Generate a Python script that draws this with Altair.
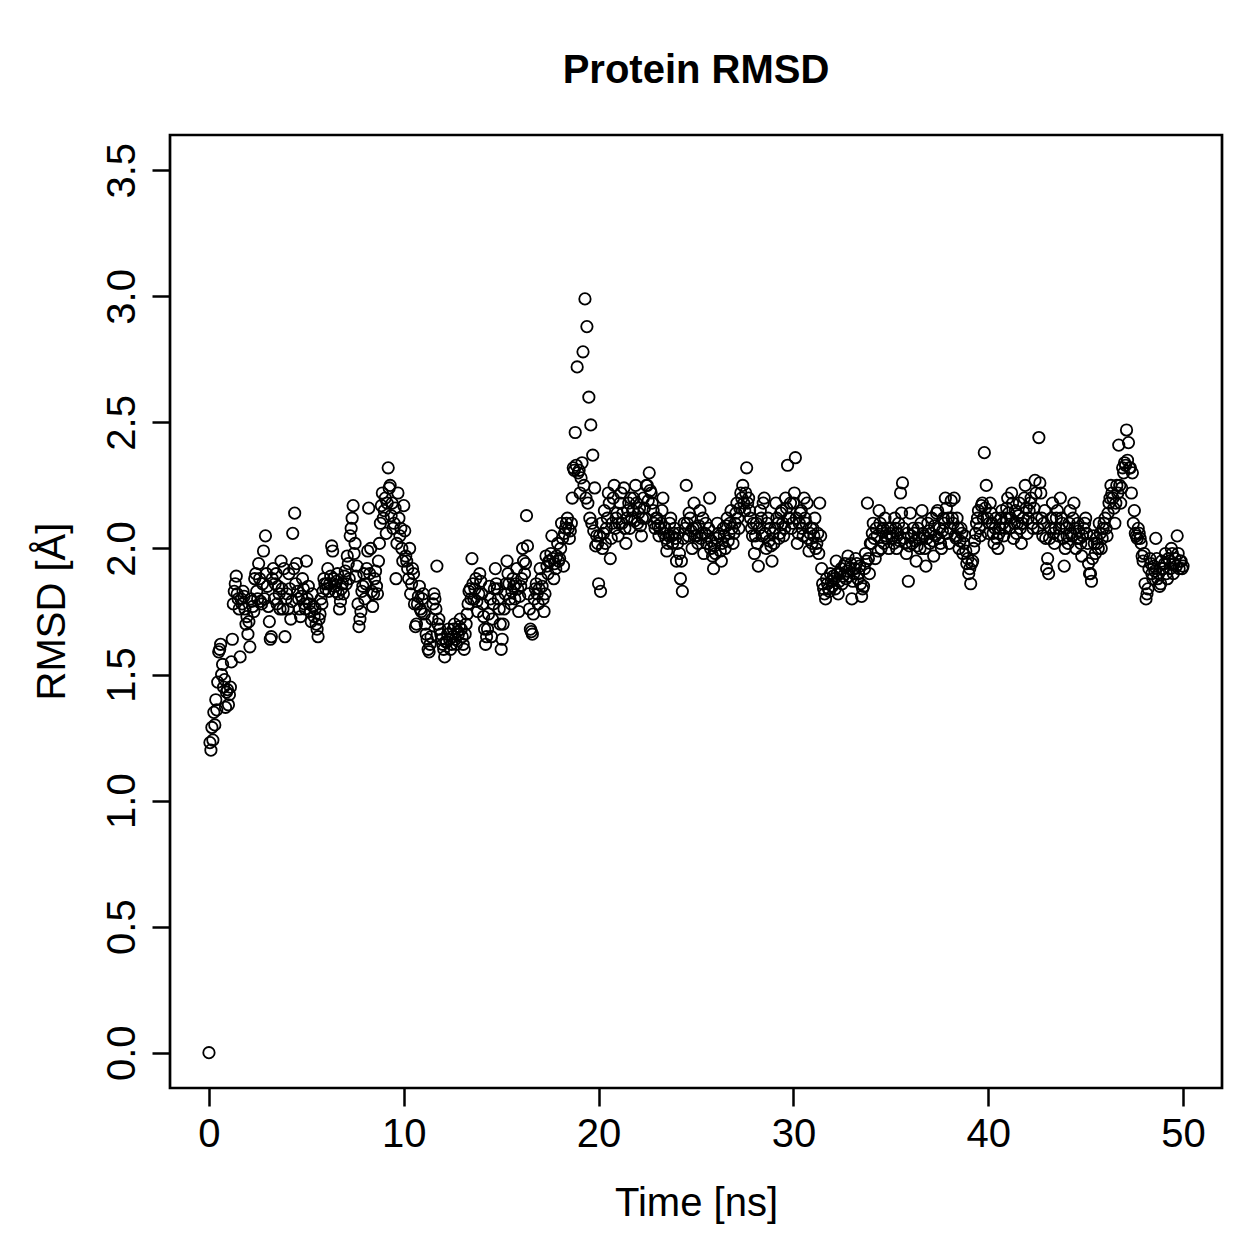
import altair as alt
import pandas as pd

# RMSD values (Å), sampled every 0.1 ns; one row of 10 values per nanosecond
rmsd_ns = [
    [0.00, 1.20, 1.24, 1.30, 1.36, 1.59, 1.62, 1.54, 1.48, 1.43],  # 0
    [1.38, 1.45, 1.64, 1.83, 1.89, 1.80, 1.57, 1.78, 1.81, 1.70],  # 1
    [1.66, 1.61, 1.79, 1.75, 1.90, 1.80, 1.88, 1.78, 1.99, 2.05],  # 2
    [1.85, 1.71, 1.65, 1.92, 1.86, 1.78, 1.82, 1.95, 1.76, 1.65],  # 3
    [1.82, 1.90, 1.72, 2.06, 2.14, 1.94, 1.80, 1.73, 1.88, 1.78],  # 4
    [1.95, 1.85, 1.75, 1.82, 1.73, 1.70, 1.65, 1.74, 1.78, 1.88],  # 5
    [1.84, 1.92, 1.86, 2.01, 1.88, 1.83, 1.90, 1.76, 1.84, 1.82],  # 6
    [1.91, 1.97, 1.88, 2.08, 2.17, 2.02, 1.93, 1.69, 1.75, 1.85],  # 7
    [1.80, 1.92, 2.16, 2.00, 1.77, 1.88, 1.85, 1.95, 2.10, 2.22],  # 8
    [2.15, 2.06, 2.32, 2.25, 2.18, 2.10, 1.88, 2.22, 2.05, 2.00],  # 9
    [2.17, 1.97, 1.92, 2.00, 1.86, 1.90, 1.69, 1.78, 1.85, 1.75],  # 10
    [1.82, 1.70, 1.64, 1.59, 1.65, 1.78, 1.80, 1.93, 1.72, 1.66],  # 11
    [1.62, 1.57, 1.63, 1.68, 1.60, 1.65, 1.70, 1.62, 1.66, 1.72],  # 12
    [1.65, 1.60, 1.70, 1.78, 1.84, 1.96, 1.80, 1.88, 1.75, 1.90],  # 13
    [1.82, 1.73, 1.62, 1.68, 1.85, 1.65, 1.78, 1.92, 1.84, 1.76],  # 14
    [1.60, 1.70, 1.82, 1.95, 1.86, 1.78, 1.88, 1.80, 1.92, 1.75],  # 15
    [1.85, 2.00, 1.90, 2.13, 1.82, 1.68, 1.66, 1.80, 1.86, 1.78],  # 16
    [1.92, 1.85, 1.75, 1.97, 1.90, 1.95, 2.05, 1.88, 1.92, 2.02],  # 17
    [1.96, 2.10, 1.93, 2.08, 2.12, 2.04, 2.10, 2.32, 2.46, 2.72],  # 18
    [2.31, 2.28, 2.78, 2.99, 2.88, 2.60, 2.49, 2.37, 2.24, 2.05],  # 19
    [1.86, 1.83, 2.00, 2.15, 2.08, 2.22, 1.96, 2.10, 2.25, 2.12],  # 20
    [2.05, 2.18, 2.10, 2.24, 2.02, 2.15, 2.08, 2.12, 2.20, 2.25],  # 21
    [2.10, 2.16, 2.05, 2.20, 2.12, 2.25, 2.30, 2.22, 2.15, 2.08],  # 22
    [2.12, 2.05, 2.10, 2.20, 2.08, 1.99, 2.05, 2.12, 2.02, 2.08],  # 23
    [1.95, 2.06, 1.88, 1.83, 2.10, 2.25, 2.05, 2.12, 2.00, 2.18],  # 24
    [2.08, 2.02, 2.15, 2.06, 1.98, 2.10, 2.05, 2.20, 2.03, 1.92],  # 25
    [1.98, 2.10, 2.05, 1.95, 2.08, 2.00, 2.12, 2.06, 2.15, 2.02],  # 26
    [2.10, 2.18, 2.08, 2.22, 2.25, 2.15, 2.32, 2.20, 2.12, 2.05],  # 27
    [1.98, 2.10, 1.93, 2.15, 2.05, 2.20, 2.00, 2.12, 2.08, 1.95],  # 28
    [2.02, 2.18, 2.10, 2.06, 2.15, 2.05, 2.20, 2.33, 2.12, 2.08],  # 29
    [2.18, 2.36, 2.02, 2.10, 2.15, 2.05, 2.12, 2.18, 1.99, 2.08],  # 30
    [2.08, 2.12, 2.02, 1.98, 2.05, 1.86, 1.82, 1.88, 1.84, 1.90],  # 31
    [1.85, 1.88, 1.95, 1.82, 1.90, 1.86, 1.93, 1.88, 1.97, 1.92],  # 32
    [1.80, 1.90, 1.96, 1.88, 1.93, 1.81, 1.85, 1.98, 2.18, 1.90],  # 33
    [2.02, 2.10, 1.96, 2.05, 2.15, 2.00, 2.08, 2.12, 2.04, 2.00],  # 34
    [2.08, 2.05, 2.12, 2.00, 2.10, 2.22, 2.26, 2.04, 1.98, 1.87],  # 35
    [2.14, 2.02, 2.06, 1.95, 2.08, 2.00, 2.15, 2.05, 1.93, 2.10],  # 36
    [2.02, 2.12, 1.97, 2.05, 2.15, 2.08, 2.00, 2.12, 2.20, 2.06],  # 37
    [2.02, 2.19, 2.10, 2.05, 2.12, 2.00, 2.08, 1.98, 2.05, 1.94],  # 38
    [1.90, 1.86, 1.95, 2.03, 2.10, 2.15, 2.05, 2.18, 2.38, 2.25],  # 39
    [2.06, 2.18, 2.10, 2.02, 2.12, 2.00, 2.08, 2.15, 2.05, 2.12],  # 40
    [2.20, 2.08, 2.22, 2.04, 2.15, 2.10, 2.18, 2.02, 2.12, 2.25],  # 41
    [2.06, 2.15, 2.20, 2.08, 2.27, 2.12, 2.44, 2.22, 2.05, 2.15],  # 42
    [1.92, 1.90, 2.08, 2.18, 2.02, 2.12, 2.05, 2.20, 2.10, 1.93],  # 43
    [2.08, 2.02, 2.15, 2.05, 2.18, 2.00, 2.10, 2.04, 1.97, 2.08],  # 44
    [2.12, 2.02, 1.90, 1.87, 2.05, 1.98, 2.02, 2.10, 2.00, 2.08],  # 45
    [2.12, 2.05, 2.18, 2.25, 2.20, 2.10, 2.25, 2.41, 2.18, 2.32],  # 46
    [2.34, 2.47, 2.42, 2.32, 2.30, 2.15, 2.05, 2.08, 2.04, 1.97],  # 47
    [1.98, 1.80, 1.84, 1.96, 1.90, 1.93, 2.04, 1.88, 1.85, 1.95],  # 48
    [1.92, 1.98, 1.88, 1.95, 2.00, 1.90, 1.96, 2.05, 1.92, 1.95],  # 49
]
rmsd_last = 1.93  # at 50.0 ns

# RMSD values (Å) at the half steps (ns + 0.05, ns + 0.15, ... ns + 0.95)
rmsd_half = [
    [1.23, 1.29, 1.35, 1.40, 1.47, 1.60, 1.50, 1.45, 1.37, 1.44],  # 0
    [1.42, 1.55, 1.78, 1.86, 1.82, 1.76, 1.80, 1.83, 1.76, 1.73],  # 1
    [1.71, 1.80, 1.77, 1.88, 1.83, 1.94, 1.79, 1.86, 1.80, 1.90],  # 2
    [1.77, 1.64, 1.88, 1.80, 1.90, 1.85, 1.76, 1.84, 1.92, 1.80],  # 3
    [1.76, 1.84, 1.79, 1.92, 1.86, 1.83, 1.76, 1.81, 1.84, 1.76],  # 4
    [1.80, 1.78, 1.71, 1.77, 1.76, 1.68, 1.72, 1.80, 1.83, 1.86],  # 5
    [1.86, 1.83, 1.89, 1.99, 1.85, 1.87, 1.82, 1.79, 1.86, 1.89],  # 6
    [1.86, 1.94, 2.05, 2.12, 1.98, 1.89, 1.78, 1.72, 1.83, 1.90],  # 7
    [1.86, 1.99, 1.90, 1.83, 1.82, 1.91, 1.82, 2.02, 2.17, 2.12],  # 8
    [2.20, 2.18, 2.24, 2.13, 2.08, 2.16, 2.02, 2.12, 2.08, 1.95],  # 9
    [2.07, 1.95, 1.88, 1.82, 1.92, 1.78, 1.70, 1.81, 1.76, 1.80],  # 10
    [1.74, 1.66, 1.60, 1.62, 1.72, 1.82, 1.76, 1.70, 1.68, 1.64],  # 11
    [1.60, 1.63, 1.66, 1.64, 1.62, 1.68, 1.64, 1.67, 1.69, 1.68],  # 12
    [1.62, 1.66, 1.74, 1.83, 1.80, 1.86, 1.84, 1.79, 1.82, 1.87],  # 13
    [1.78, 1.68, 1.65, 1.74, 1.80, 1.72, 1.84, 1.86, 1.80, 1.70],  # 14
    [1.64, 1.76, 1.86, 1.90, 1.80, 1.83, 1.85, 1.86, 1.84, 1.81],  # 15
    [1.88, 1.95, 1.94, 2.01, 1.76, 1.67, 1.74, 1.84, 1.82, 1.84],  # 16
    [1.88, 1.80, 1.82, 1.93, 1.95, 1.98, 1.96, 1.94, 1.97, 1.95],  # 17
    [2.00, 2.04, 2.06, 2.10, 2.08, 2.07, 2.20, 2.31, 2.33, 2.30],  # 18
    [2.22, 2.34, 2.25, 2.20, 2.18, 2.12, 2.10, 2.07, 2.01, 2.02],  # 19
    [2.05, 2.10, 2.06, 2.02, 2.12, 2.18, 2.04, 2.20, 2.08, 2.14],  # 20
    [2.10, 2.22, 2.14, 2.08, 2.12, 2.18, 2.20, 2.15, 2.11, 2.18],  # 21
    [2.14, 2.09, 2.12, 2.16, 2.25, 2.19, 2.23, 2.18, 2.10, 2.12],  # 22
    [2.09, 2.08, 2.15, 2.06, 2.04, 2.02, 2.10, 2.05, 2.06, 2.04],  # 23
    [2.02, 1.98, 1.95, 2.04, 2.08, 2.10, 2.14, 2.07, 2.08, 2.05],  # 24
    [2.05, 2.09, 2.04, 2.12, 2.06, 2.02, 2.08, 2.00, 1.97, 2.01],  # 25
    [2.04, 2.06, 1.99, 2.02, 2.05, 2.09, 2.03, 2.10, 2.08, 2.06],  # 26
    [2.14, 2.12, 2.16, 2.20, 2.18, 2.22, 2.18, 2.15, 2.08, 2.10],  # 27
    [2.05, 2.02, 2.08, 2.12, 2.18, 2.06, 2.10, 2.03, 2.01, 2.06],  # 28
    [2.08, 2.12, 2.04, 2.14, 2.10, 2.08, 2.16, 2.12, 2.18, 2.10],  # 29
    [2.22, 2.12, 2.06, 2.14, 2.08, 2.20, 2.10, 2.04, 2.06, 2.02],  # 30
    [2.05, 2.00, 2.06, 2.18, 1.92, 1.84, 1.80, 1.86, 1.83, 1.87],  # 31
    [1.89, 1.84, 1.90, 1.87, 1.92, 1.89, 1.94, 1.91, 1.89, 1.94],  # 32
    [1.87, 1.92, 1.94, 1.90, 1.86, 1.84, 1.92, 1.95, 1.96, 2.02],  # 33
    [2.06, 2.04, 2.08, 1.99, 2.10, 2.07, 2.02, 2.05, 2.08, 2.06],  # 34
    [2.04, 2.02, 2.08, 2.06, 2.03, 2.14, 2.08, 2.02, 2.06, 2.01],  # 35
    [2.05, 2.08, 2.03, 2.01, 2.04, 2.10, 2.06, 2.00, 2.04, 2.07],  # 36
    [2.06, 2.03, 2.09, 2.14, 2.04, 2.02, 2.07, 2.10, 2.16, 2.12],  # 37
    [2.08, 2.12, 2.20, 2.04, 2.08, 2.03, 2.06, 2.02, 1.99, 1.96],  # 38
    [1.92, 1.94, 2.00, 2.06, 2.12, 2.08, 2.17, 2.12, 2.16, 2.12],  # 39
    [2.10, 2.14, 2.06, 2.08, 2.04, 2.06, 2.12, 2.10, 2.08, 2.16],  # 40
    [2.14, 2.12, 2.18, 2.10, 2.06, 2.13, 2.08, 2.10, 2.20, 2.16],  # 41
    [2.12, 2.18, 2.10, 2.16, 2.22, 2.08, 2.26, 2.12, 2.10, 2.04],  # 42
    [1.96, 2.04, 2.12, 2.06, 2.08, 2.15, 2.08, 2.12, 2.04, 2.00],  # 43
    [2.05, 2.10, 2.06, 2.12, 2.08, 2.04, 2.07, 2.02, 2.05, 2.10],  # 44
    [2.06, 1.94, 1.90, 1.96, 2.02, 2.04, 2.00, 2.06, 2.04, 2.10],  # 45
    [2.08, 2.14, 2.20, 2.22, 2.16, 2.18, 2.22, 2.25, 2.24, 2.30],  # 46
    [2.33, 2.35, 2.32, 2.22, 2.10, 2.06, 2.04, 2.06, 2.02, 1.95],  # 47
    [1.86, 1.82, 1.92, 1.94, 1.88, 1.91, 1.96, 1.90, 1.86, 1.92],  # 48
    [1.94, 1.90, 1.96, 1.92, 1.98, 1.94, 1.93, 1.98, 1.95, 1.92],  # 49
]

x_ticks = [0, 10, 20, 30, 40, 50]
y_ticks = [0.0, 0.5, 1.0, 1.5, 2.0, 2.5, 3.0, 3.5]

rows = []
for ns in range(50):
    for k in range(10):
        rows.append({"time": round(ns + k / 10, 2), "rmsd": rmsd_ns[ns][k]})
        rows.append({"time": round(ns + k / 10 + 0.05, 2), "rmsd": rmsd_half[ns][k]})
rows.append({"time": 50.0, "rmsd": rmsd_last})
df = pd.DataFrame(rows)

FONT = "Liberation Sans"

chart = (
    alt.Chart(df)
    .mark_point(shape="circle", filled=False, color="black", strokeWidth=1.8, size=130, opacity=1)
    .encode(
        x=alt.X(
            "time:Q",
            scale=alt.Scale(domain=[-2, 52], nice=False, zero=False),
            axis=alt.Axis(
                values=x_ticks, title="Time [ns]", grid=False, domain=False,
                tickSize=18, tickWidth=2.5, tickColor="black",
                labelFont=FONT, labelFontSize=40, labelColor="black",
                labelPadding=8, labelBaseline="top", labelAlign="center",
                titleFont=FONT, titleFontSize=40, titleFontWeight="normal", titleColor="black",
                titleBaseline="alphabetic", titleX=526, titleY=127, labelFlush=False,
            ),
        ),
        y=alt.Y(
            "rmsd:Q",
            scale=alt.Scale(domain=[-0.14, 3.64], nice=False, zero=False),
            axis=alt.Axis(
                values=y_ticks, format=".1f", title="RMSD [Å]", grid=False, domain=False,
                tickSize=18, tickWidth=2.5, tickColor="black",
                labelFont=FONT, labelFontSize=40, labelColor="black",
                labelAngle=270, labelAlign="center", labelBaseline="alphabetic",
                labelPadding=18, labelFlush=False,
                titleFont=FONT, titleFontSize=40, titleFontWeight="normal", titleColor="black",
                titleAngle=270, titleAlign="center", titleBaseline="alphabetic",
                titleX=-106, titleY=476,
            ),
        ),
    )
    .properties(
        width=1052,
        height=953,
        title=alt.TitleParams(
            "Protein RMSD", font=FONT, fontSize=40, fontWeight="bold", color="black",
            anchor="middle", baseline="alphabetic", offset=12,
        ),
        autosize=alt.AutoSizeParams(type="none"),
        padding={"left": 170, "top": 135, "right": 37, "bottom": 171},
    )
    .configure(background="white")
    .configure_view(stroke="black", strokeWidth=2.7)
)

chart.save("out.html", embed_options={"renderer": "svg", "actions": False})
